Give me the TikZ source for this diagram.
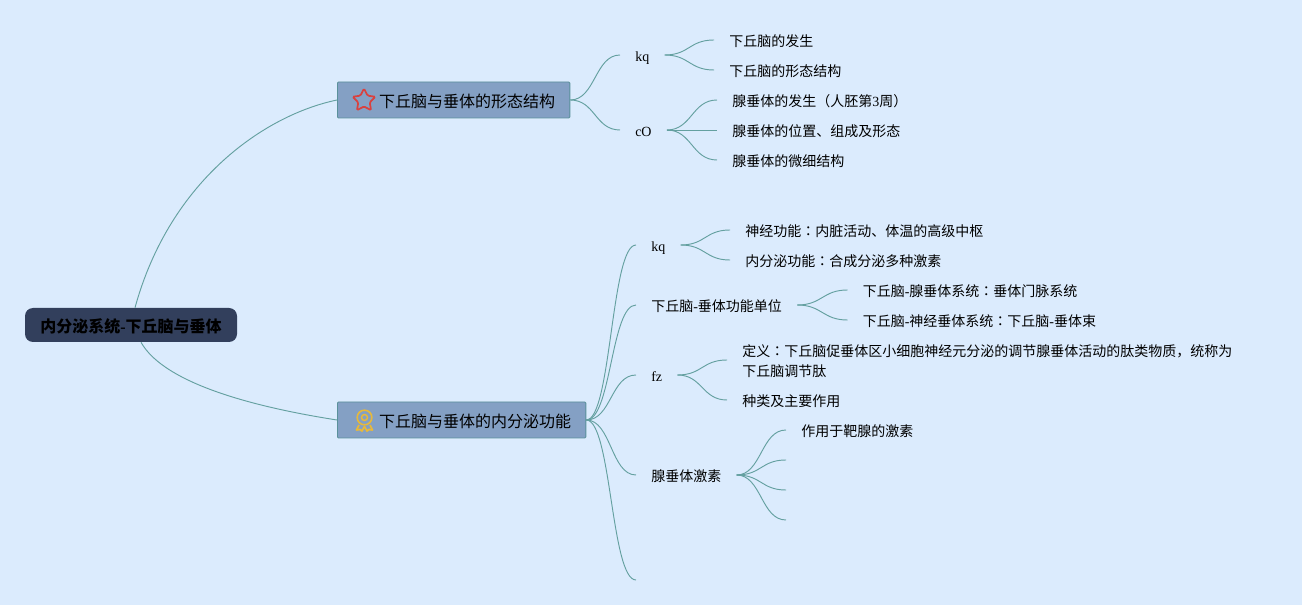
\documentclass[tikz,border=0pt]{standalone}
\usepackage{fontspec}
\setmainfont{Noto Sans CJK SC}
\newfontfamily\lat{Liberation Serif}
\newfontfamily\tcfont{Noto Sans CJK TC}
\usetikzlibrary{shapes,positioning}
\definecolor{canvasblue}{RGB}{219,235,253}
\definecolor{rootnavy}{RGB}{50,63,92}
\definecolor{topicblue}{RGB}{132,160,196}
\definecolor{topicedge}{RGB}{90,145,155}
\definecolor{linkteal}{RGB}{100,160,160}
\definecolor{starred}{RGB}{217,65,63}
\definecolor{medalgold}{RGB}{232,185,58}
\newcommand{\colonmark}{{\tcfont ：}}

\begin{document}
\begin{tikzpicture}[x=0.75pt, y=-0.75pt,
  root/.style={rectangle, rounded corners=6pt, fill=rootnavy, font=\bfseries\fontsize{12}{15}\selectfont, minimum width=159pt, minimum height=25.5pt, inner sep=0pt, text height=11.5pt, text depth=0.5pt},
  topic/.style={draw=topicedge, rectangle, rounded corners=0.8pt, fill=topicblue, line width=0.7pt, anchor=west, font=\fontsize{12}{15}\selectfont, inner xsep=11pt, minimum height=27pt, inner ysep=0pt, text height=11.5pt, text depth=0.5pt},
  item/.style={anchor=west, font=\fontsize{10.5}{15}\selectfont, inner xsep=11.25pt, inner ysep=0pt, text height=10pt, text depth=0.5pt, align=left},
  link/.style={draw=linkteal, line width=0.7pt}]
  \fill[canvasblue] (0,0) rectangle (1302,605);

  \node[root] (root) at (131,325) {内分泌系统{\lat -}下丘脑与垂体};
  \node[topic] (morph) at (337,100) {\hspace{20.25pt}下丘脑与垂体的形态结构};
  \node[topic] (endo) at (337,420) {\hspace{20.25pt}下丘脑与垂体的内分泌功能};
  \node[star, star points=5, star point ratio=2, draw=starred, line width=1.3pt, rounded corners=1pt, inner sep=0pt, minimum size=18pt] (staricon) at (364,100.5) {};
  \node[circle, draw=medalgold, line width=1.2pt, inner sep=0pt, minimum size=11pt] (medal) at (364.5,417.5) {};
  \node[circle, draw=medalgold, line width=1.1pt, inner sep=0pt, minimum size=4.5pt] (medalcore) at (364.5,417.5) {};
  \draw[medalgold, line width=1.3pt, line join=round] (359,425) -- (356.5,430) -- (360,429.5) -- (362,431) -- (364.5,426.5) -- (367,431) -- (369,429.5) -- (372.5,430) -- (370,425);

  \node[item] (kqa) at (620,55) {\lat kq};
  \node[item] (co) at (620,130) {\lat cO};
  \node[item] (hypogen) at (714,40) {下丘脑的发生};
  \node[item] (hypoform) at (714,70) {下丘脑的形态结构};
  \node[item] (pitgen) at (717,100) {腺垂体的发生（人胚第{\lat 3}周）};
  \node[item] (pitpos) at (717,130) {腺垂体的位置、组成及形态};
  \node[item] (pitfine) at (717,160) {腺垂体的微细结构};

  \node[item] (kqb) at (636,245) {\lat kq};
  \node[item] (unit) at (636,305) {下丘脑{\lat -}垂体功能单位};
  \node[item] (fz) at (636,375) {\lat fz};
  \node[item] (hormone) at (636,475) {腺垂体激素};
  \coordinate (lastend) at (636,580);

  \node[item] (neural) at (730,230) {神经功能\colonmark 内脏活动、体温的高级中枢};
  \node[item] (secrete) at (730,260) {内分泌功能\colonmark 合成分泌多种激素};
  \node[item] (portal) at (847.5,290) {下丘脑{\lat -}腺垂体系统\colonmark 垂体门脉系统};
  \node[item] (tract) at (847.5,320) {下丘脑{\lat -}神经垂体系统\colonmark 下丘脑{\lat -}垂体束};
  \node[item, text height=, text depth=] (define) at (727,361) {定义\colonmark 下丘脑促垂体区小细胞神经元分泌的调节腺垂体活动的肽类物质，统称为\\下丘脑调节肽};
  \node[item] (kinds) at (727,400) {种类及主要作用};
  \node[item] (target) at (786,430) {作用于靶腺的激素};
  \coordinate (emptya) at (786,460);
  \coordinate (emptyb) at (786,490);
  \coordinate (emptyc) at (786,520);

  \draw[link] ([xshift=3pt]root.north) .. controls (170,180) and (265,115) .. (morph.west);
  \draw[link] ([xshift=7.5pt]root.south) .. controls (165,385) and (260,408) .. (endo.west);

  \foreach \leaf in {kqa,co}
    \draw[link] (morph.east) .. controls +(25,0) and +(-25,0) .. (\leaf.west);
  \foreach \leaf in {hypogen,hypoform}
    \draw[link] (kqa.east) .. controls +(25,0) and +(-25,0) .. (\leaf.west);
  \foreach \leaf in {pitgen,pitpos,pitfine}
    \draw[link] (co.east) .. controls +(25,0) and +(-25,0) .. (\leaf.west);
  \foreach \leaf in {kqb,unit,fz,hormone}
    \draw[link] (endo.east) .. controls +(25,0) and +(-25,0) .. (\leaf.west);
  \draw[link] (endo.east) .. controls +(25,0) and +(-25,0) .. (lastend);
  \foreach \leaf in {neural,secrete}
    \draw[link] (kqb.east) .. controls +(25,0) and +(-25,0) .. (\leaf.west);
  \foreach \leaf in {portal,tract}
    \draw[link] (unit.east) .. controls +(25,0) and +(-25,0) .. (\leaf.west);
  \draw[link] (fz.east) .. controls +(25,0) and +(-25,0) .. ([yshift=0.75pt]define.west);
  \draw[link] (fz.east) .. controls +(25,0) and +(-25,0) .. (kinds.west);
  \draw[link] (hormone.east) .. controls +(25,0) and +(-25,0) .. (target.west);
  \foreach \leaf in {emptya,emptyb,emptyc}
    \draw[link] (hormone.east) .. controls +(25,0) and +(-25,0) .. (\leaf);
\end{tikzpicture}
\end{document}
